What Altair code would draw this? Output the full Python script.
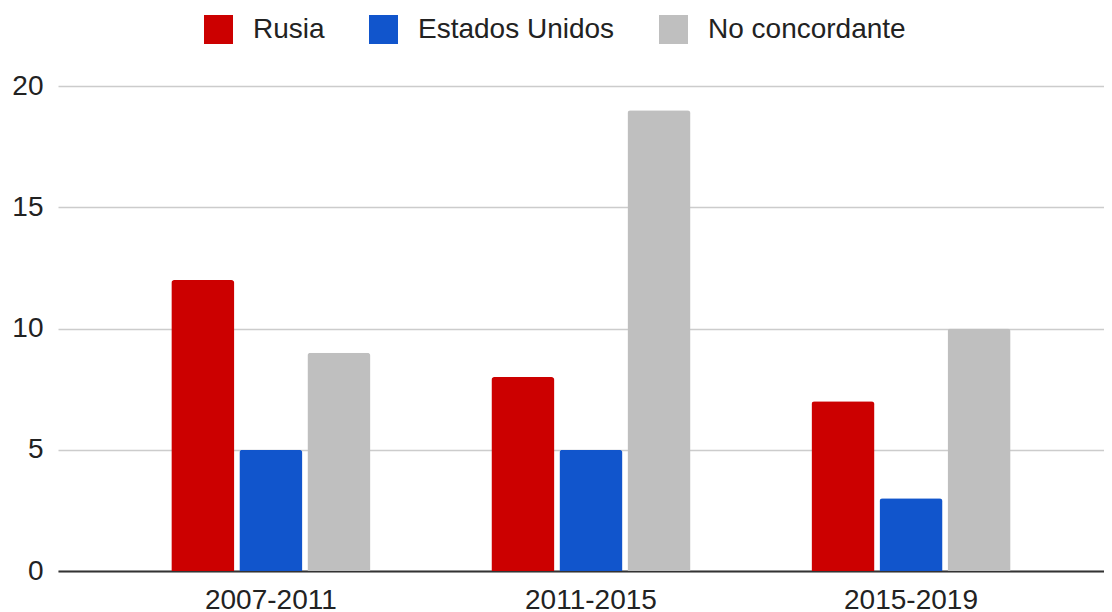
import altair as alt
import pandas as pd

periods = ["2007-2011", "2011-2015", "2015-2019"]
series = ["Rusia", "Estados Unidos", "No concordante"]
rusia = [12, 8, 7]
eeuu = [5, 5, 3]
no_conc = [9, 19, 10]
colors = ["#cc0000", "#1155cc", "#bfbfbf"]

rows = []
for i, p in enumerate(periods):
    for s, vals in zip(series, [rusia, eeuu, no_conc]):
        rows.append({"Periodo": p, "Serie": s, "Valor": vals[i]})
df = pd.DataFrame(rows)

FONT = "Liberation Sans"

chart = alt.Chart(df).mark_bar(
    cornerRadiusTopLeft=3, cornerRadiusTopRight=3
).encode(
    x=alt.X("Periodo:N", sort=periods, title=None,
            scale=alt.Scale(paddingInner=0.378, paddingOuter=0.323, align=0.548),
            axis=alt.Axis(labelAngle=0, labelFontSize=28, labelFont=FONT,
                          labelColor="#222222", ticks=False, domain=True,
                          domainColor="#333333", domainWidth=2,
                          labelPadding=15, grid=False)),
    xOffset=alt.XOffset("Serie:N", sort=series,
                        scale=alt.Scale(paddingInner=0.074, paddingOuter=0)),
    y=alt.Y("Valor:Q", title=None,
            scale=alt.Scale(domain=[0, 20], nice=False),
            axis=alt.Axis(values=[0, 5, 10, 15, 20], labelFontSize=28,
                          labelFont=FONT, labelColor="#222222", ticks=False,
                          domain=False, labelPadding=15, gridColor="#cccccc",
                          gridWidth=1.5)),
    color=alt.Color("Serie:N", sort=series,
                    scale=alt.Scale(domain=series, range=colors),
                    legend=alt.Legend(orient="none", direction="horizontal",
                                      legendX=146, legendY=-71,
                                      title=None, symbolType="square",
                                      symbolSize=841, symbolStrokeWidth=0,
                                      labelFontSize=28, labelFont=FONT,
                                      labelColor="#222222", labelOffset=20,
                                      columnPadding=44, labelLimit=400)),
).properties(
    width=1046, height=485,
    autosize=alt.AutoSizeParams(type="none"),
    padding={"left": 50, "top": 78, "right": 0, "bottom": 40},
).configure_view(stroke=None)

chart.save("out.html", embed_options={"renderer": "svg", "actions": False})
